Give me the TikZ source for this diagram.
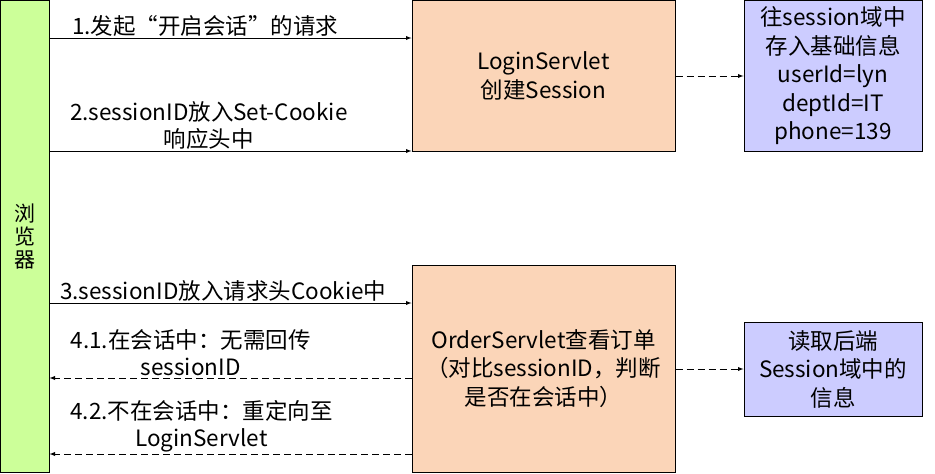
\documentclass[tikz,border=0pt]{standalone}
\usepackage{fontspec}
\setmainfont{Noto Sans CJK SC}
\definecolor{browsergreen}{HTML}{CCFF99}
\definecolor{servletpeach}{HTML}{FBD5B8}
\definecolor{infoblue}{HTML}{CCCCFF}
\tikzset{
	box/.style={draw=black, line width=1pt, inner sep=0pt, align=center},
	msg/.style={font=\fontsize{22.5}{27}\selectfont, align=center, inner sep=1.5pt},
	back/.style={dash pattern=on 7pt off 4pt},
}
\begin{document}
\begin{tikzpicture}[
				x=1pt, y=-1pt,
				line width=0.9pt,
				every node/.style={
						font=\fontsize{22.5}{28.5}\selectfont,
					},]
			\useasboundingbox (0,0) rectangle (935,474);
			% browser bar on the left
			\node[box, fill=browsergreen, minimum width=49pt, minimum height=472pt,
				font=\fontsize{21}{23}\selectfont] (browser) at (24.5,236.5) {浏\\览\\器};
			% servlets
			\node[box, fill=servletpeach, minimum width=263pt, minimum height=151pt] (login) at (543.5,76) {LoginServlet\\创建Session};
			\node[box, fill=servletpeach, minimum width=263pt, minimum height=207pt] (order) at (543.5,368.5) {OrderServlet查看订单\\（对比sessionID，判断\\是否在会话中）};
			% session contents
			\node[box, fill=infoblue, minimum width=178pt, minimum height=151pt] (store) at (833,76) {往session域中\\存入基础信息\\userId=lyn\\deptId=IT\\phone=139};
			\node[box, fill=infoblue, minimum width=178pt, minimum height=94pt] (read) at (833,369) {读取后端\\Session域中的\\信息};
			% requests and responses
			\draw [-latex] (browser.east |- 0,38) -- (login.west |- 0,38)
				node[msg, above, pos=0.43] (m1) {1.发起“开启会话”的请求};
			\draw [-latex] (browser.east |- 0,151) -- (login.west |- 0,151)
				node[msg, above, pos=0.44] (m2) {2.sessionID放入Set-Cookie\\响应头中};
			\draw [-latex] (browser.east |- 0,303) -- (order.west |- 0,303)
				node[msg, above, pos=0.48] (m3) {3.sessionID放入请求头Cookie中};
			\draw [-latex, back] (order.west |- 0,378) -- (browser.east |- 0,378)
				node[msg, above, pos=0.61] (m41) {4.1.在会话中：无需回传\\sessionID};
			\draw [-latex, back] (order.west |- 0,454) -- (browser.east |- 0,454)
				node[msg, above, pos=0.58] (m42) {4.2.不在会话中：重定向至\\LoginServlet};
			% session domain access
			\draw [-latex, back] (login.east |- 0,76) -- (store.west |- 0,76);
			\draw [-latex, back] (order.east |- 0,369) -- (read.west |- 0,369);
		\end{tikzpicture}
\end{document}
